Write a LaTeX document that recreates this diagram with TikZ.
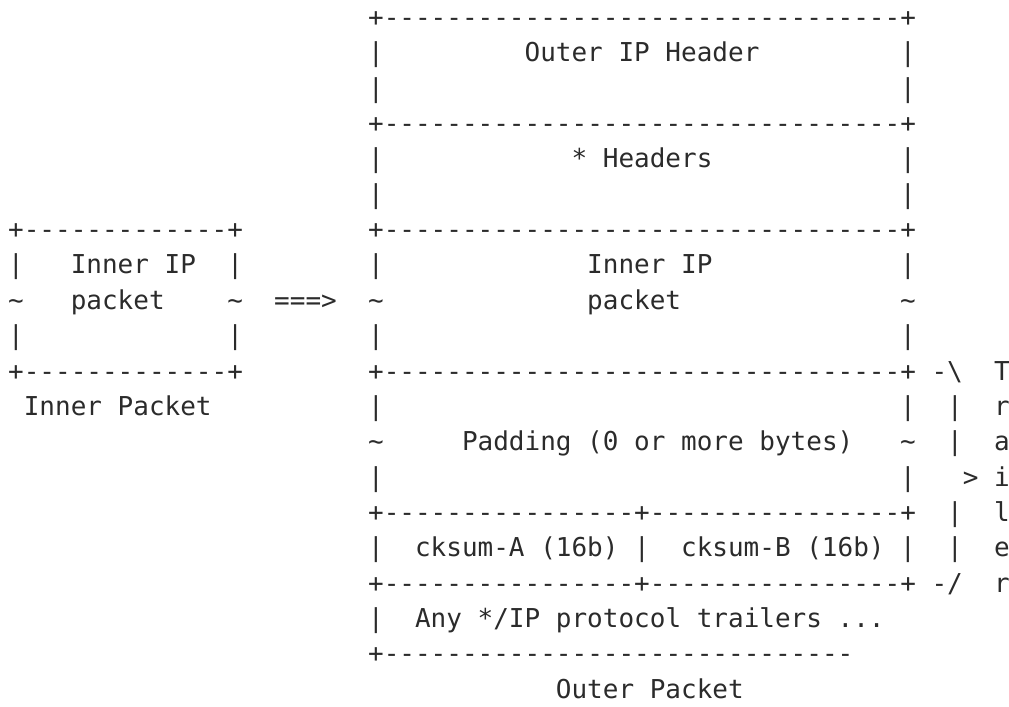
\documentclass[tikz,border=0pt]{standalone}
\usepackage{fontspec}
\setmonofont{DejaVu Sans Mono}
\definecolor{ink}{HTML}{2B2B2B}
\ExplSyntaxOn
\cs_new:Npn \dashrun #1 { \prg_replicate:nn {#1} {-} }
\ExplSyntaxOff
% one character cell: 15.65 x 35.35 (px units)
\newcommand\cell[3]{\node[txt] (c#2x#1) at ({8.175+15.65*#1},{26.5+35.35*#2}) {#3};}
\newcommand\tld{\textasciitilde}
\begin{document}
\begin{tikzpicture}[x=0.5pt,y=-0.5pt,
  txt/.style={anchor=base west,inner sep=0pt,outer sep=0pt,text=ink,
    font=\fontsize{13}{17}\selectfont\ttfamily}]
\useasboundingbox (0,0) rectangle (1009,707);
% outer packet
\cell{23}{0}{+\dashrun{33}+}
\cell{23}{1}{|}\cell{33}{1}{Outer IP Header}\cell{57}{1}{|}
\cell{23}{2}{|}\cell{57}{2}{|}
\cell{23}{3}{+\dashrun{33}+}
\cell{23}{4}{|}\cell{36}{4}{* Headers}\cell{57}{4}{|}
\cell{23}{5}{|}\cell{57}{5}{|}
% inner packet and the first inner rows
\cell{0}{6}{+\dashrun{13}+}\cell{23}{6}{+\dashrun{33}+}
\cell{0}{7}{|}\cell{4}{7}{Inner IP}\cell{14}{7}{|}
\cell{23}{7}{|}\cell{37}{7}{Inner IP}\cell{57}{7}{|}
\cell{0}{8}{\tld}\cell{4}{8}{packet}\cell{14}{8}{\tld}
\cell{17}{8}{===>}
\cell{23}{8}{\tld}\cell{37}{8}{packet}\cell{57}{8}{\tld}
\cell{0}{9}{|}\cell{14}{9}{|}\cell{23}{9}{|}\cell{57}{9}{|}
\cell{0}{10}{+\dashrun{13}+}\cell{23}{10}{+\dashrun{33}+}
\cell{59}{10}{-\textbackslash}\cell{63}{10}{T}
\cell{1}{11}{Inner Packet}
\cell{23}{11}{|}\cell{57}{11}{|}\cell{60}{11}{|}\cell{63}{11}{r}
\cell{23}{12}{\tld}\cell{29}{12}{Padding (0 or more bytes)}\cell{57}{12}{\tld}
\cell{60}{12}{|}\cell{63}{12}{a}
\cell{23}{13}{|}\cell{57}{13}{|}\cell{61}{13}{>}\cell{63}{13}{i}
\cell{23}{14}{+\dashrun{16}+\dashrun{16}+}\cell{60}{14}{|}\cell{63}{14}{l}
\cell{23}{15}{|}\cell{26}{15}{cksum-A (16b)}\cell{40}{15}{|}
\cell{43}{15}{cksum-B (16b)}\cell{57}{15}{|}\cell{60}{15}{|}\cell{63}{15}{e}
\cell{23}{16}{+\dashrun{16}+\dashrun{16}+}\cell{59}{16}{-/}\cell{63}{16}{r}
\cell{23}{17}{|}\cell{26}{17}{Any */IP protocol trailers ...}
\cell{23}{18}{+\dashrun{30}}
\cell{35}{19}{Outer Packet}
\end{tikzpicture}
\end{document}
